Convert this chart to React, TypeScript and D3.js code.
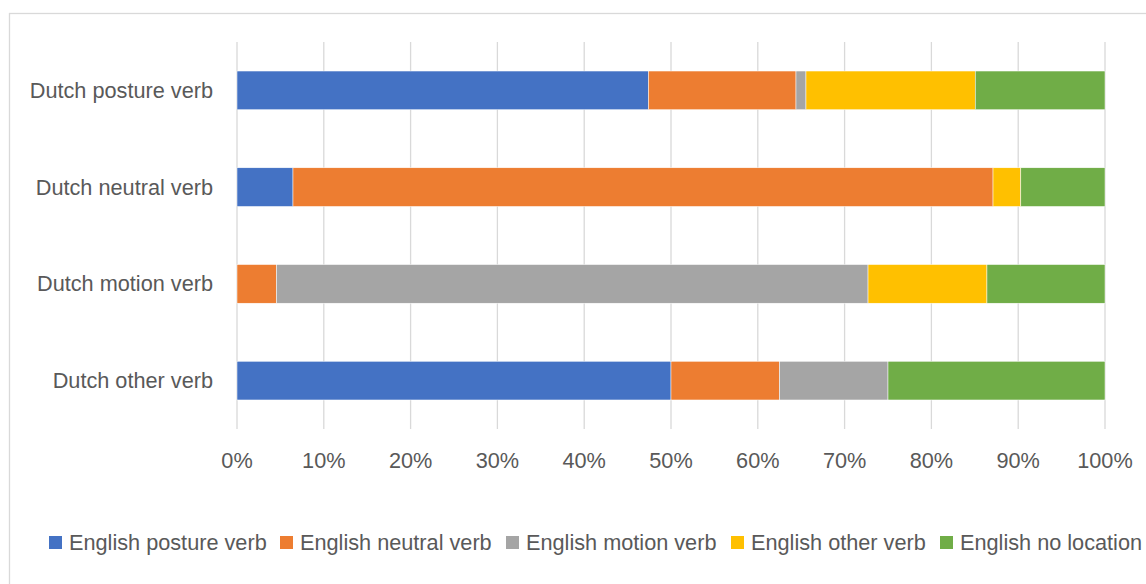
import React from "react";
import * as d3 from "d3";

const categories = ["Dutch posture verb", "Dutch neutral verb", "Dutch motion verb", "Dutch other verb"];
const seriesNames = ["English posture verb", "English neutral verb", "English motion verb", "English other verb", "English no location"];
const colors = ["#4472C4", "#ED7D31", "#A5A5A5", "#FFC000", "#70AD47"];
const englishPosture = [47.4, 6.45, 0, 50];
const englishNeutral = [17.0, 80.65, 4.55, 12.5];
const englishMotion = [1.15, 0, 68.15, 12.5];
const englishOther = [19.5, 3.2, 13.7, 0];
const englishNoLocation = [14.95, 9.7, 13.6, 25];
const tickValues = [0, 10, 20, 30, 40, 50, 60, 70, 80, 90, 100];

const W = 1146, H = 584;
const FONT = "'Liberation Sans', Arial, sans-serif";
const TEXT = "#595959";
const FS = 21.7;

export default function App() {
  const x = d3.scaleLinear().domain([0, 100]).range([237, 1105]);
  const y = d3.scaleBand<string>().domain(categories).range([42, 429]).paddingInner(0.6).paddingOuter(0.3);
  const series = [englishPosture, englishNeutral, englishMotion, englishOther, englishNoLocation];
  const rows = categories.map((c, i) => {
    const o: any = { cat: c };
    seriesNames.forEach((s, j) => (o[s] = series[j][i]));
    return o;
  });
  const stacked = d3.stack<any>().keys(seriesNames)(rows);

  const legendX = [49, 280, 506, 731, 940];

  return (
    <svg width={W} height={H} style={{ position: "absolute", left: 0, top: 0, background: "#fff" }}>
      <rect x={9.5} y={13.5} width={W} height={H} fill="#fff" stroke="#d9d9d9" strokeWidth={1.3} />
      {tickValues.map((t) => (
        <line key={t} x1={x(t)} x2={x(t)} y1={42} y2={429} stroke="#d9d9d9" strokeWidth={1.3} />
      ))}
      {stacked.map((layer, j) => (
        <g key={j} fill={colors[j]}>
          {layer.map((d, i) =>
            d[1] - d[0] > 0 ? (
              <rect key={i} x={x(d[0])} y={y(categories[i])} width={x(d[1]) - x(d[0])} height={y.bandwidth()} stroke="#fff" strokeWidth={0.5} />
            ) : null
          )}
        </g>
      ))}
      {categories.map((c) => (
        <text key={c} x={213} y={(y(c) as number) + y.bandwidth() / 2} dy="0.35em" textAnchor="end" fontFamily={FONT} fontSize={FS} fill={TEXT}>
          {c}
        </text>
      ))}
      {tickValues.map((t) => (
        <text key={t} x={x(t)} y={468} textAnchor="middle" fontFamily={FONT} fontSize={FS} fill={TEXT}>
          {t}%
        </text>
      ))}
      {seriesNames.map((s, j) => (
        <g key={s}>
          <rect x={legendX[j]} y={536} width={13} height={13} fill={colors[j]} />
          <text x={legendX[j] + 20} y={550} fontFamily={FONT} fontSize={FS} fill={TEXT}>
            {s}
          </text>
        </g>
      ))}
    </svg>
  );
}
